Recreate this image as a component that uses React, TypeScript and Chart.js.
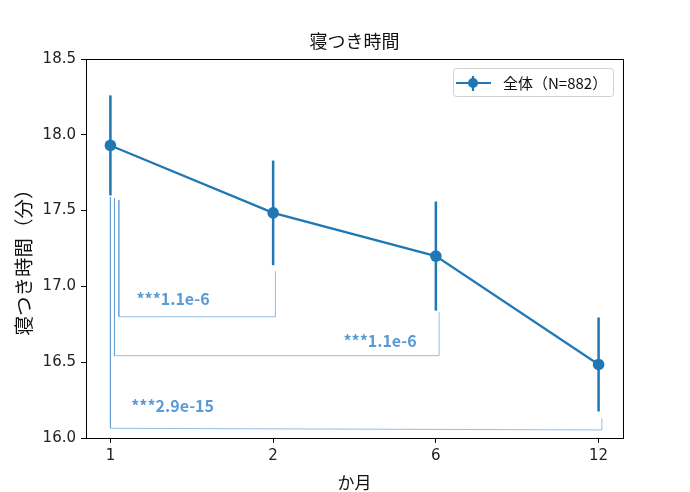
import React, { useEffect, useRef } from "react";
import { Chart, registerables } from "chart.js";

Chart.register(...registerables);

// ---- data ----
const monthLabels = ["1", "2", "6", "12"];
const meanValues = [17.93, 17.485, 17.2, 16.485];
const errorHalf = [0.33, 0.345, 0.36, 0.31];
const seriesLabel = "全体（N=882）";
const titleText = "寝つき時間";
const xAxisTitle = "か月";
const yAxisTitle = "寝つき時間（分）";
const yTicks = [16.0, 16.5, 17.0, 17.5, 18.0, 18.5];

// significance brackets: [x index, y value] corner points
const bracket1 = [[0.052, 17.57], [0.052, 16.8], [1.014, 16.8], [1.014, 17.1]];
const bracket2 = [[0.025, 17.58], [0.025, 16.543], [2.02, 16.543], [2.02, 16.83]];
const bracket3 = [[0.0, 17.59], [0.0, 16.064], [3.02, 16.053], [3.02, 16.13]];
const bracketTexts = ["***1.1e-6", "***1.1e-6", "***2.9e-15"];
const bracketTextX = [0.16, 1.432, 0.128];
const bracketTextY = [16.917, 16.64, 16.211];

const BLUE = "#1f77b4";
const ANNO = "#5b9bd5";
const ANNO_LINE = "rgba(91,155,213,0.65)";
const JP = '"Noto Sans CJK JP", "Noto Sans", sans-serif';

export default function App() {
  const ref = useRef<HTMLCanvasElement | null>(null);

  useEffect(() => {
    if (!ref.current) return;
    const mainData = meanValues.map((v, i) => ({ x: i, y: v }));
    const errDatasets = meanValues.map((v, i) => ({
      type: "line" as const,
      data: [{ x: i, y: v - errorHalf[i] }, { x: i, y: v + errorHalf[i] }],
      borderColor: BLUE,
      borderWidth: 2.5,
      pointRadius: 0,
      showLine: true,
      order: 2,
    }));
    const brDatasets = [bracket1, bracket2, bracket3].map((b) => ({
      type: "line" as const,
      data: b.map((p) => ({ x: p[0], y: p[1] })),
      borderColor: ANNO_LINE,
      borderWidth: 1,
      pointRadius: 0,
      showLine: true,
      order: 3,
    }));

    const decor = {
      id: "decor",
      afterDraw(chart: any) {
        const ctx = chart.ctx;
        const a = chart.chartArea;
        const xs = chart.scales.x;
        const ys = chart.scales.y;
        ctx.save();
        // frame
        ctx.strokeStyle = "#000";
        ctx.lineWidth = 1;
        ctx.strokeRect(Math.round(a.left) + 0.5, Math.round(a.top) + 0.5, Math.round(a.right - a.left), Math.round(a.bottom - a.top));
        // annotation texts
        ctx.fillStyle = ANNO;
        ctx.font = `bold 16px ${JP}`;
        ctx.textAlign = "left";
        ctx.textBaseline = "middle";
        bracketTexts.forEach((t, i) => {
          ctx.fillText(t, xs.getPixelForValue(bracketTextX[i]), ys.getPixelForValue(bracketTextY[i]));
        });
        // title
        ctx.fillStyle = "#111";
        ctx.textAlign = "center";
        ctx.font = `18px ${JP}`;
        ctx.fillText(titleText, (a.left + a.right) / 2, 41);
        // x label
        ctx.font = `17px ${JP}`;
        ctx.fillText(xAxisTitle, (a.left + a.right) / 2, 483);
        // y label
        ctx.save();
        ctx.translate(24, (a.top + a.bottom) / 2 + 9);
        ctx.rotate(-Math.PI / 2);
        ctx.font = `19.5px ${JP}`;
        ctx.fillText(yAxisTitle, 0, 0);
        ctx.restore();
        // legend
        const lx = a.right - 170, ly = a.top + 9, lw = 160, lh = 28;
        ctx.beginPath();
        ctx.roundRect(lx + 0.5, ly + 0.5, lw, lh, 3);
        ctx.fillStyle = "rgba(255,255,255,0.85)";
        ctx.fill();
        ctx.strokeStyle = "#d0d0d0";
        ctx.lineWidth = 1;
        ctx.stroke();
        const cy = ly + lh / 2 + 1;
        ctx.strokeStyle = BLUE;
        ctx.lineWidth = 2.2;
        ctx.beginPath();
        ctx.moveTo(lx + 3, cy);
        ctx.lineTo(lx + 38, cy);
        ctx.moveTo(lx + 20, cy - 7);
        ctx.lineTo(lx + 20, cy + 8);
        ctx.stroke();
        ctx.fillStyle = BLUE;
        ctx.beginPath();
        ctx.arc(lx + 20, cy, 5, 0, Math.PI * 2);
        ctx.fill();
        ctx.fillStyle = "#111";
        ctx.textAlign = "left";
        ctx.font = `15px ${JP}`;
        ctx.fillText(seriesLabel, lx + 50, cy);
        ctx.restore();
      },
    };

    const chart = new Chart(ref.current, {
      type: "line",
      data: {
        datasets: [
          {
            label: seriesLabel,
            data: mainData,
            borderColor: BLUE,
            backgroundColor: BLUE,
            borderWidth: 2.2,
            pointRadius: 5.8,
            pointBorderWidth: 0,
            pointBackgroundColor: BLUE,
            tension: 0,
            order: 0,
          },
          ...errDatasets,
          ...brDatasets,
        ] as any,
      },
      options: {
        animation: false,
        responsive: false,
        devicePixelRatio: 1,
        layout: { padding: { left: 0, top: 59, right: 67, bottom: 0 } },
        plugins: { legend: { display: false }, tooltip: { enabled: false }, title: { display: false } },
        scales: {
          x: {
            type: "linear",
            min: -0.15,
            max: 3.15,
            afterBuildTicks: (s: any) => {
              s.ticks = monthLabels.map((_, i) => ({ value: i }));
            },
            afterFit: (s: any) => {
              s.height = 54;
            },
            ticks: {
              callback: (v: any) => monthLabels[Math.round(Number(v))] ?? "",
              font: { family: '"DejaVu Sans"', size: 15 },
              color: "#222",
              padding: 4,
              maxRotation: 0,
            },
            grid: { drawOnChartArea: false, drawTicks: true, tickLength: 5, color: "#000", tickColor: "#000" },
            border: { display: false },
          },
          y: {
            type: "linear",
            min: 16,
            max: 18.5,
            afterBuildTicks: (s: any) => {
              s.ticks = yTicks.map((v) => ({ value: v }));
            },
            afterFit: (s: any) => {
              s.width = 86;
            },
            ticks: {
              callback: (v: any) => Number(v).toFixed(1),
              font: { family: '"DejaVu Sans"', size: 15 },
              color: "#222",
              padding: 5,
            },
            grid: { drawOnChartArea: false, drawTicks: true, tickLength: 5, color: "#000", tickColor: "#000" },
            border: { display: false },
          },
        },
      },
      plugins: [decor],
    });
    return () => chart.destroy();
  }, []);

  return (
    <div style={{ position: "absolute", left: 0, top: 0, width: 690, height: 492, background: "#fff" }}>
      <canvas ref={ref} width={690} height={492} />
    </div>
  );
}
